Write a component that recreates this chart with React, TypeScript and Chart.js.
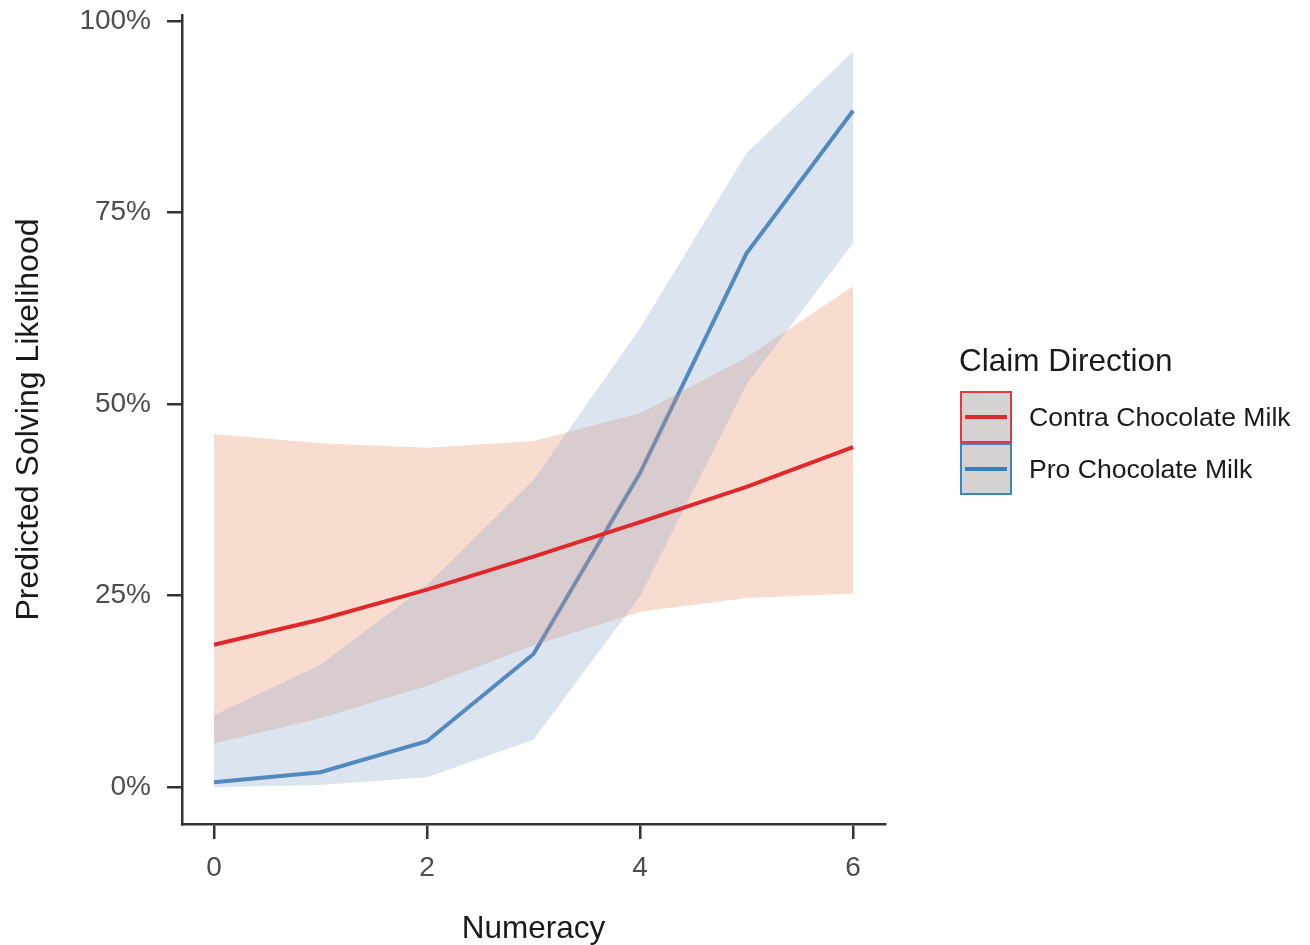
import React, { useEffect, useRef } from "react";
import { Chart, registerables } from "chart.js";

Chart.register(...registerables);

const numeracy = [0, 1, 2, 3, 4, 5, 6];
const xTicks = [0, 2, 4, 6];
const yTicks = [0, 25, 50, 75, 100];

const contraFit = [18.6, 21.9, 25.8, 30.1, 34.6, 39.2, 44.4];
const contraUpper = [46.1, 44.9, 44.3, 45.2, 48.8, 56.1, 65.4];
const contraLower = [5.7, 9.0, 13.2, 18.5, 22.9, 24.7, 25.3];

const proFit = [0.65, 1.95, 6.0, 17.4, 41.0, 69.7, 88.3];
const proUpper = [9.4, 16.0, 26.4, 40.1, 59.9, 82.8, 96.0];
const proLower = [0.0, 0.3, 1.3, 6.2, 24.9, 52.6, 71.0];

const seriesNames = ["Contra Chocolate Milk", "Pro Chocolate Milk"];
const legendTitle = "Claim Direction";

const RED = "#E0282B";
const BLUE = "#3A7DB8";
const RED_FILL = "rgba(235,138,98,0.3)";
const BLUE_FILL = "rgba(138,165,205,0.3)";
const FONT = "'Liberation Sans', Arial, sans-serif";

const pts = (ys: number[]) => numeracy.map((x, i) => ({ x, y: ys[i] }));

export default function App() {
  const ref = useRef<HTMLCanvasElement | null>(null);

  useEffect(() => {
    document.body.style.margin = "0";
    if (!ref.current) return;
    const chart = new Chart(ref.current, {
      type: "line",
      data: {
        datasets: [
          {
            label: seriesNames[0],
            data: pts(contraFit),
            borderColor: RED,
            borderWidth: 4,
            pointRadius: 0,
            fill: false,
            order: 0,
          },
          {
            label: seriesNames[1],
            data: pts(proFit),
            borderColor: BLUE,
            borderWidth: 4,
            pointRadius: 0,
            fill: false,
            order: 6,
          },
          {
            label: "contraLower",
            data: pts(contraLower),
            borderWidth: 0,
            borderColor: "transparent",
            pointRadius: 0,
            fill: false,
            order: 5,
          },
          {
            label: "contraUpper",
            data: pts(contraUpper),
            borderWidth: 0,
            borderColor: "transparent",
            backgroundColor: RED_FILL,
            pointRadius: 0,
            fill: 2,
            order: 4,
          },
          {
            label: "proLower",
            data: pts(proLower),
            borderWidth: 0,
            borderColor: "transparent",
            pointRadius: 0,
            fill: false,
            order: 3,
          },
          {
            label: "proUpper",
            data: pts(proUpper),
            borderWidth: 0,
            borderColor: "transparent",
            backgroundColor: BLUE_FILL,
            pointRadius: 0,
            fill: 4,
            order: 2,
          },
        ],
      },
      options: {
        animation: false,
        responsive: true,
        maintainAspectRatio: false,
        layout: { padding: { top: 15, right: 425, left: 0, bottom: 0 } },
        plugins: {
          legend: { display: false },
          tooltip: { enabled: false },
        },
        scales: {
          x: {
            type: "linear",
            min: -0.3,
            max: 6.3,
            afterBuildTicks: (s: any) => {
              s.ticks = xTicks.map((v) => ({ value: v }));
            },
            afterFit: (s: any) => {
              s.height = 121;
              s.paddingLeft = 0;
              s.paddingRight = 0;
            },
            ticks: {
              color: "#4D4D4D",
              font: { family: FONT, size: 28 },
              padding: 12,
              maxRotation: 0,
              callback: (v: any) => String(v),
            },
            grid: {
              drawOnChartArea: false,
              drawTicks: true,
              tickLength: 15,
              color: "#333333",
              lineWidth: 2.5,
            },
            border: { display: true, color: "#333333", width: 2.5 },
            title: {
              display: true,
              text: "Numeracy",
              color: "#1A1A1A",
              font: { family: FONT, size: 31.5, lineHeight: 1 },
              padding: 0,
            },
          },
          y: {
            type: "linear",
            min: -4.8,
            max: 100.8,
            afterBuildTicks: (s: any) => {
              s.ticks = yTicks.map((v) => ({ value: v }));
            },
            afterFit: (s: any) => {
              s.width = 182;
              s.paddingTop = 0;
              s.paddingBottom = 0;
            },
            ticks: {
              color: "#4D4D4D",
              font: { family: FONT, size: 28 },
              padding: 16,
              callback: (v: any) => v + "%",
            },
            grid: {
              drawOnChartArea: false,
              drawTicks: true,
              tickLength: 15,
              color: "#333333",
              lineWidth: 2.5,
            },
            border: { display: true, color: "#333333", width: 2.5 },
            title: {
              display: true,
              text: "Predicted Solving Likelihood",
              color: "#1A1A1A",
              font: { family: FONT, size: 32, lineHeight: 1 },
              padding: { top: 13, bottom: 0 },
            },
          },
        },
      },
    });
    return () => chart.destroy();
  }, []);

  const keys = [
    { name: seriesNames[0], color: RED, border: "#E03A3E" },
    { name: seriesNames[1], color: BLUE, border: "#3D85C0" },
  ];

  return (
    <div style={{ position: "relative", width: 1310, height: 945, fontFamily: FONT }}>
      <canvas ref={ref} />
      <div style={{ position: "absolute", left: 959, top: 340, color: "#1A1A1A", fontSize: 31.5, lineHeight: "40px", whiteSpace: "nowrap" }}>
        {legendTitle}
      </div>
      {keys.map((k, i) => (
        <div key={k.name} style={{ position: "absolute", left: 960, top: 391 + i * 52, height: 52, display: "flex", alignItems: "center", whiteSpace: "nowrap" }}>
          <div style={{ width: 48, height: 48, boxSizing: "content-box", border: `2px solid ${k.border}`, background: "#D6D2D2", position: "relative" }}>
            <div style={{ position: "absolute", left: 3, right: 3, top: 22, height: 4, background: k.color }} />
          </div>
          <div style={{ marginLeft: 17, fontSize: 26.6, color: "#1A1A1A" }}>{k.name}</div>
        </div>
      ))}
    </div>
  );
}
